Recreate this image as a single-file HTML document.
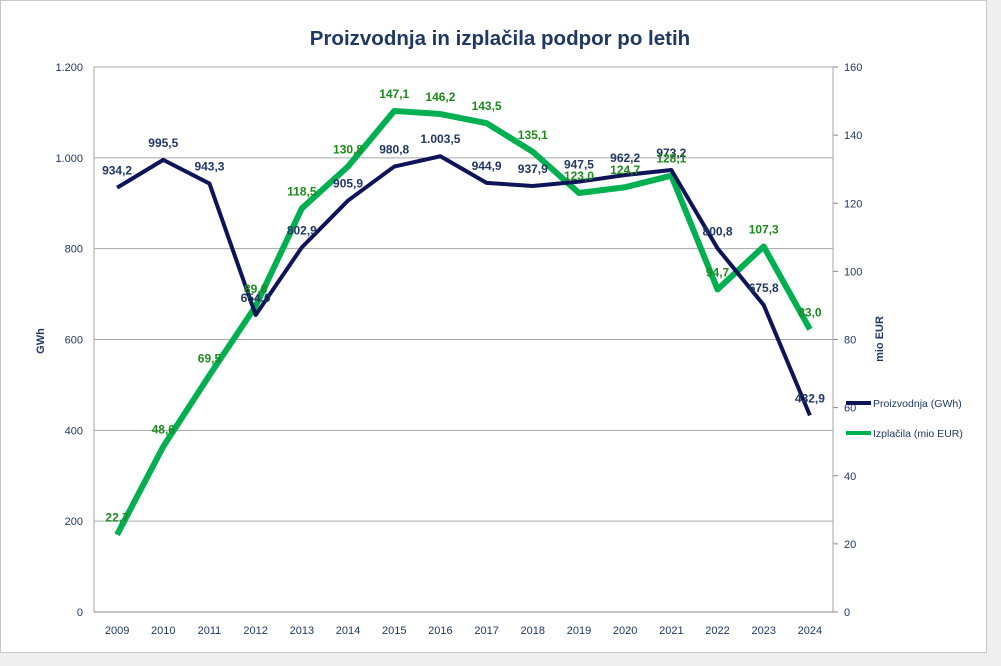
<!DOCTYPE html>
<html><head><meta charset="utf-8"><style>
body{margin:0;background:#efefef;width:1001px;height:660px;overflow:hidden;font-family:"Liberation Sans",sans-serif}
#card{position:absolute;left:0;top:0;width:985px;height:651px;background:#fff;border:1px solid #c8c8c8}
svg text{font-family:"Liberation Sans",sans-serif}
</style></head><body>
<div id="card">
<svg id="chart" width="1001" height="660"></svg>
</div>
<script>
const years=["2009","2010","2011","2012","2013","2014","2015","2016","2017","2018","2019","2020","2021","2022","2023","2024"];
const prod=[934.2,995.5,943.3,654.0,802.9,905.9,980.8,1003.5,944.9,937.9,947.5,962.2,973.2,800.8,675.8,432.9];
const pay=[22.7,48.6,69.5,89.8,118.5,130.8,147.1,146.2,143.5,135.1,123.0,124.7,128.1,94.7,107.3,83.0];
const leftTicks=[0,200,400,600,800,1000,1200];
const rightTicks=[0,20,40,60,80,100,120,140,160];
const NS="http://www.w3.org/2000/svg";
const svg=document.getElementById('chart');
const L=93,R=832,T=66,B=611;
const x=i=>L+(R-L)/years.length*(i+0.5);
const yl=v=>B-(B-T)*v/1200;
const yr=v=>B-(B-T)*v/160;
function mk(t,a,txt){const e=document.createElementNS(NS,t);for(const k in a)e.setAttribute(k,a[k]);if(txt!==undefined)e.textContent=txt;svg.appendChild(e);return e;}
const fmt=v=>{let s=v.toFixed(1).replace('.',',');let [a,b]=s.split(',');a=a.replace(/\B(?=(\d{3})+(?!\d))/g,'.');return a+','+b;};
const fmtT=v=>String(v).replace(/\B(?=(\d{3})+(?!\d))/g,'.');
let e;
e=mk('text',{x:499,y:44,'text-anchor':'middle','font-size':20.5,'font-weight':'bold',fill:'#1f3864'},'Proizvodnja in izplačila podpor po letih');

leftTicks.forEach(v=>{
 if(v>0){e=mk('line',{x1:L,x2:R,y1:yl(v),y2:yl(v),stroke:'#a6a6a6','stroke-width':1});}
 e=mk('text',{x:82,y:yl(v)+4,'text-anchor':'end','font-size':11,fill:'#1f3864'},fmtT(v));
 
});
rightTicks.forEach(v=>{
 e=mk('line',{x1:R,x2:R+5,y1:yr(v),y2:yr(v),stroke:'#868686'});
 e=mk('text',{x:843,y:yr(v)+4,'font-size':11,fill:'#1f3864'},String(v));
 
});
e=mk('rect',{x:L,y:T,width:R-L,height:B-T,fill:'none',stroke:'#a6a6a6'});
e=mk('line',{x1:L,x2:R,y1:B,y2:B,stroke:'#868686'});
years.forEach((yv,i)=>{e=mk('text',{x:x(i),y:633,'text-anchor':'middle','font-size':11,fill:'#1f3864'},yv);});
e=mk('text',{x:43,y:340,'text-anchor':'middle','font-size':11,'font-weight':'bold',fill:'#1f3864',transform:'rotate(-90 43 340)'},'GWh');
e=mk('text',{x:882,y:338,'text-anchor':'middle','font-size':11,'font-weight':'bold',fill:'#1f3864',transform:'rotate(-90 882 338)'},'mio EUR');
e=mk('polyline',{points:pay.map((v,i)=>x(i)+','+yr(v)).join(' '),fill:'none',stroke:'#00b050','stroke-width':6,'stroke-linejoin':'round'});
e=mk('polyline',{points:prod.map((v,i)=>x(i)+','+yl(v)).join(' '),fill:'none',stroke:'#0d1458','stroke-width':4,'stroke-linejoin':'round'});
prod.forEach((v,i)=>{e=mk('text',{x:x(i),y:yl(v)-13,'text-anchor':'middle','font-size':12,'font-weight':'bold',fill:'#1f3864'},fmt(v));});
pay.forEach((v,i)=>{e=mk('text',{x:x(i),y:yr(v)-13,'text-anchor':'middle','font-size':12,'font-weight':'bold',fill:'#1e8a1e'},fmt(v));});
e=mk('line',{x1:845,x2:870,y1:402,y2:402,stroke:'#0d1458','stroke-width':4});
e=mk('text',{x:872,y:406,'font-size':10.5,fill:'#1f3864'},'Proizvodnja (GWh)');
e=mk('line',{x1:845,x2:870,y1:432,y2:432,stroke:'#00b050','stroke-width':4});
e=mk('text',{x:872,y:436,'font-size':10.5,fill:'#1f3864'},'Izplačila (mio EUR)');
</script></body></html>
